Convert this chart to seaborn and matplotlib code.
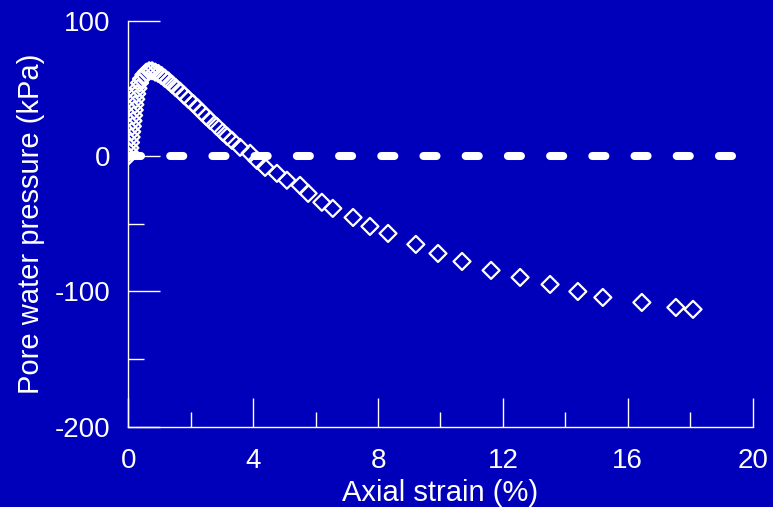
import numpy as np
import pandas as pd
import matplotlib
matplotlib.use("Agg")
import matplotlib.pyplot as plt
import seaborn as sns

# Axial strain (%) and pore water pressure (kPa)
strain = [0.00, 0.03, 0.05, 0.07, 0.09, 0.11, 0.13, 0.15, 0.17, 0.19,
          0.21, 0.24, 0.27, 0.31, 0.36, 0.42, 0.50, 0.58, 0.67, 0.76,
          0.86, 0.96, 1.06, 1.17, 1.28, 1.40, 1.52, 1.65, 1.78, 1.92,
          2.07, 2.22, 2.36, 2.49, 2.62, 2.83, 3.03, 3.17, 3.32, 3.58,
          3.90, 4.12, 4.38, 4.76, 5.08, 5.50, 5.76, 6.20, 6.55, 7.20,
          7.74, 8.32, 9.21, 9.92, 10.69, 11.62, 12.55, 13.51, 14.40, 15.20,
          16.45, 17.54, 18.09]
pwp = [0.0, 3.0, 6.0, 10.0, 14.0, 18.0, 22.0, 26.0, 30.0, 34.0,
       38.0, 42.0, 46.0, 50.0, 54.0, 57.0, 60.0, 62.0, 63.0, 63.0,
       62.0, 61.0, 59.5, 57.5, 55.5, 53.0, 50.5, 48.0, 45.0, 42.0,
       38.9, 35.6, 32.3, 29.3, 26.4, 22.0, 17.5, 14.5, 11.6, 6.4,
       2.0, -3.2, -8.4, -12.8, -17.9, -21.7, -27.6, -34.2, -38.7, -45.4,
       -52.0, -57.2, -65.3, -72.0, -77.9, -84.5, -89.7, -94.9, -100.1, -104.5,
       -108.2, -111.9, -113.3]

zero_x = [0, 20]
zero_y = [0, 0]

x_major = [0, 4, 8, 12, 16, 20]
x_minor = [2, 6, 10, 14, 18]
y_major = [100, 0, -100, -200]
y_minor = [50, -50, -150]

bg = "#0000BB"
fg = "white"

sns.set_style("ticks", {"axes.facecolor": bg, "figure.facecolor": bg,
                        "axes.edgecolor": fg, "xtick.color": fg, "ytick.color": fg,
                        "text.color": fg, "axes.labelcolor": fg})
plt.rcParams["font.family"] = ["Liberation Sans", "DejaVu Sans"]
plt.rcParams["axes.unicode_minus"] = False

df = pd.DataFrame({"strain": strain, "pwp": pwp})
zero_df = pd.DataFrame({"x": zero_x, "y": zero_y})

fig = plt.figure(figsize=(7.73, 5.07), dpi=100)
ax = fig.add_axes([0.166, 0.1584, 0.8077, 0.8008])

# dashed zero line
sns.lineplot(data=zero_df, x="x", y="y", ax=ax, color=fg, linewidth=5.8,
             dashes=False, solid_capstyle="round")
ax.lines[-1].set_dashes((1.62, 3.62))
ax.lines[-1].set_dash_capstyle("round")

sns.scatterplot(data=df, x="strain", y="pwp", ax=ax, marker="D", s=75,
                facecolor="none", edgecolor=fg, linewidth=1.6, zorder=3)

ax.set_xlim(0, 20)
ax.set_ylim(-200, 100)
ax.set_xticks(x_major)
ax.set_xticks(x_minor, minor=True)
ax.set_yticks(y_major)
ax.set_yticks(y_minor, minor=True)
ax.tick_params(axis="both", which="major", direction="in", width=1, labelsize=20, colors=fg)
ax.tick_params(axis="x", which="major", length=21, pad=15)
ax.tick_params(axis="y", which="major", length=23, pad=13)
ax.tick_params(axis="x", which="minor", direction="in", length=10.5, width=1, colors=fg)
ax.tick_params(axis="y", which="minor", direction="in", length=11.5, width=1, colors=fg)

for side in ["top", "right"]:
    ax.spines[side].set_visible(False)
for side in ["left", "bottom"]:
    ax.spines[side].set_color(fg)
    ax.spines[side].set_linewidth(1)

ax.set_xlabel("Axial strain (%)", fontsize=21, labelpad=4)
ax.set_ylabel("Pore water pressure (kPa)", fontsize=21, labelpad=7)

fig.savefig("out.png", dpi=100, facecolor=bg)
